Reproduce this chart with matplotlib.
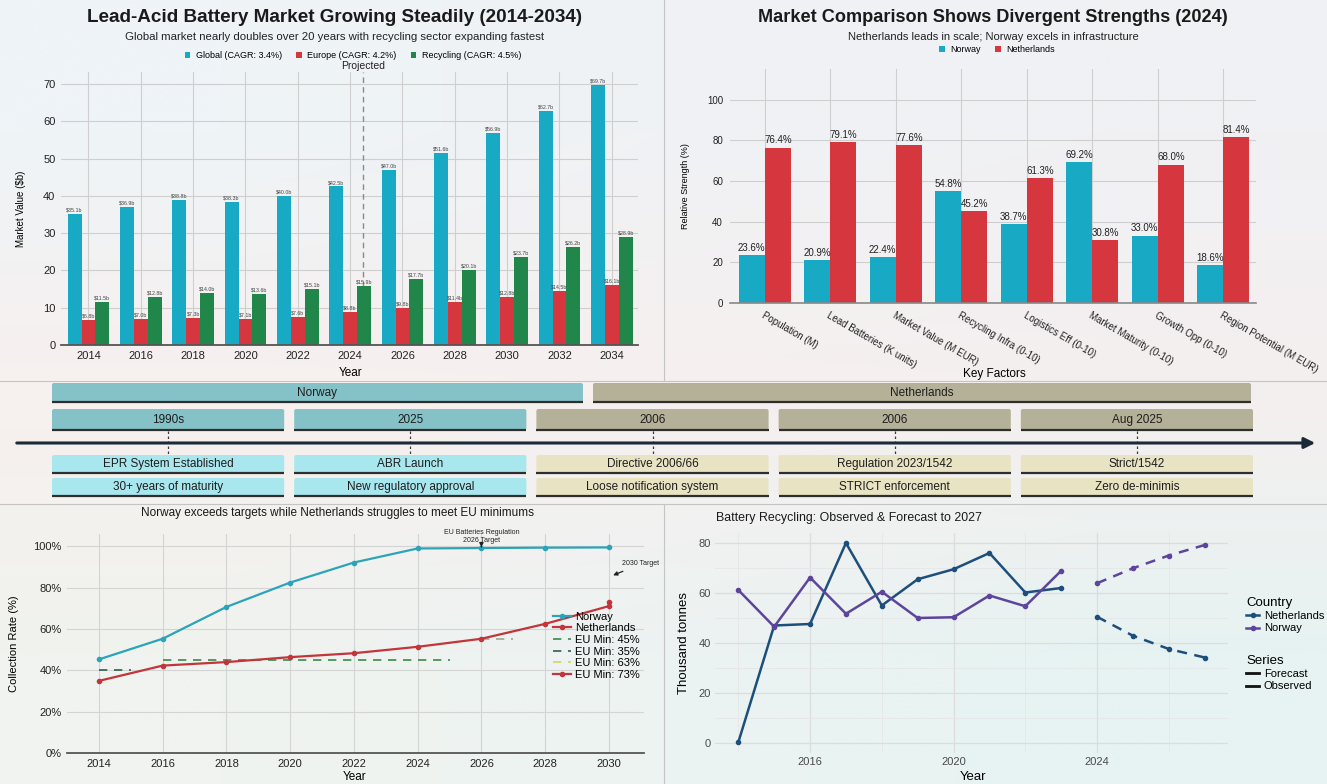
import numpy as np
import matplotlib.pyplot as plt
from matplotlib.patches import FancyBboxPatch
from matplotlib.lines import Line2D
from matplotlib.ticker import PercentFormatter

plt.rcParams['font.family'] = ['Liberation Sans', 'DejaVu Sans']

W, H = 1327, 784

# ---- top left: market value by year ($b)
years_mkt = [2014, 2016, 2018, 2020, 2022, 2024, 2026, 2028, 2030, 2032, 2034]
global_mkt = [35.1, 36.9, 38.8, 38.3, 40.0, 42.5, 47.0, 51.6, 56.9, 62.7, 69.7]
europe_mkt = [6.8, 7.0, 7.3, 7.1, 7.6, 8.8, 9.8, 11.4, 12.8, 14.5, 16.1]
recycling_mkt = [11.5, 12.8, 14.0, 13.6, 15.1, 15.9, 17.7, 20.1, 23.7, 26.2, 28.9]
mkt_labels = ['Global (CAGR: 3.4%)', 'Europe (CAGR: 4.2%)', 'Recycling (CAGR: 4.5%)']

# ---- top right: relative strength (%)
factors = ['Population (M)', 'Lead Batteries (K units)', 'Market Value (M EUR)',
           'Recycling Infra (0-10)', 'Logistics Eff (0-10)', 'Market Maturity (0-10)',
           'Growth Opp (0-10)', 'Region Potential (M EUR)']
norway_str = [23.6, 20.9, 22.4, 54.8, 38.7, 69.2, 33.0, 18.6]
nl_str = [76.4, 79.1, 77.6, 45.2, 61.3, 30.8, 68.0, 81.4]

# ---- middle: regulatory timeline
tl_regions = ['Norway', 'Netherlands']
tl_dates = ['1990s', '2025', '2006', '2006', 'Aug 2025']
tl_events = ['EPR System Established', 'ABR Launch', 'Directive 2006/66',
             'Regulation 2023/1542', 'Strict/1542']
tl_details = ['30+ years of maturity', 'New regulatory approval',
              'Loose notification system', 'STRICT enforcement', 'Zero de-minimis']
tl_country = [0, 0, 1, 1, 1]

# ---- bottom left: collection rate (%)
years_col = [2014, 2016, 2018, 2020, 2022, 2024, 2026, 2028, 2030]
norway_col = [45.3, 55.3, 70.7, 82.5, 92.2, 99.0, 99.2, 99.4, 99.5]
nl_col = [34.9, 42.3, 44.0, 46.4, 48.3, 51.4, 55.3, 62.5, 71.1]
eu45_years, eu45_val = [2016, 2025], 45
eu35_years, eu35_val = [2014, 2015], 40
eu63_years, eu63_val = [2026, 2027], 55
eu73_year, eu73_val = 2030, 73

# ---- bottom right: recycled volume (thousand tonnes)
years_obs = [2014, 2015, 2016, 2017, 2018, 2019, 2020, 2021, 2022, 2023]
nl_obs = [0.3, 47.0, 47.6, 80.0, 55.0, 65.5, 69.5, 76.0, 60.2, 62.0]
no_obs = [61.2, 46.5, 66.2, 51.7, 60.5, 50.0, 50.3, 59.0, 54.7, 68.9]
years_fc = [2024, 2025, 2026, 2027]
nl_fc = [50.5, 42.9, 37.6, 34.2]
no_fc = [63.9, 69.9, 75.0, 79.2]

C_TEAL = '#18aac4'
C_RED = '#d6363d'
C_GREEN = '#21864a'
C_NL = '#1d4f7c'
C_NO = '#5d449c'


def px_axes(x0, y0, x1, y1):
    return fig.add_axes([x0 / W, 1 - y1 / H, (x1 - x0) / W, (y1 - y0) / H])


fig = plt.figure(figsize=(W / 100, H / 100), dpi=100)

# background + timeline layer in pixel coords
bg = fig.add_axes([0, 0, 1, 1])
bg.set_zorder(-1)
bg.axis('off')
grid_cols = np.array([
    [[238, 244, 247], [240, 242, 245], [240, 241, 244]],
    [[247, 240, 238], [246, 240, 239], [245, 239, 239]],
    [[240, 243, 239], [236, 243, 242], [230, 243, 242]],
]) / 255.0
bg.imshow(grid_cols, extent=(0, W, H, 0), interpolation='bilinear', aspect='auto')
bg.set_xlim(0, W)
bg.set_ylim(H, 0)

# panel separators
for yy in (381, 504):
    bg.plot([0, W], [yy, yy], color='#c4c4c4', lw=0.8)
bg.plot([664, 664], [0, 381], color='#c4c4c4', lw=0.8)
bg.plot([664, 664], [504, H], color='#c4c4c4', lw=0.8)


def tl_box(x0, x1, y0, y1, fc, text, fs=8.5):
    bg.add_patch(FancyBboxPatch((x0, y0), x1 - x0, y1 - y0,
                                boxstyle='round,pad=0,rounding_size=2',
                                fc=fc, ec='none'))
    bg.plot([x0, x1], [y1, y1], color='#2e2e2e', lw=1.6, solid_capstyle='butt')
    bg.text((x0 + x1) / 2, (y0 + y1) / 2, text, ha='center', va='center',
            fontsize=fs, color='#1e1e1e')


head_fc = ['#84c2c8', '#b4b198']
event_fc = ['#a9e7ef', '#e7e3c3']
head_span = [(52, 583), (593, 1251)]
for i, name in enumerate(tl_regions):
    tl_box(head_span[i][0], head_span[i][1], 383, 402, head_fc[i], name)

bg.annotate('', xy=(1318, 443), xytext=(14, 443),
            arrowprops=dict(arrowstyle='-|>', color='#1b2a38', lw=2.2,
                            mutation_scale=16))

bw, gap, left = 232.2, 10, 52
for i in range(len(tl_dates)):
    x0 = left + i * (bw + gap)
    x1 = x0 + bw
    cx = (x0 + x1) / 2
    c = tl_country[i]
    bg.plot([cx, cx], [431, 455], color='#3a3a3a', lw=0.9, ls=(0, (2, 2)))
    tl_box(x0, x1, 409, 430, head_fc[c], tl_dates[i])
    tl_box(x0, x1, 455, 473, event_fc[c], tl_events[i])
    tl_box(x0, x1, 478, 496, event_fc[c], tl_details[i])

# ================= top left
fig.text(335 / W, 1 - 17 / H, 'Lead-Acid Battery Market Growing Steadily (2014-2034)',
         ha='center', va='center', fontsize=13.6, fontweight='bold', color='#1a1a1a')
fig.text(335 / W, 1 - 37 / H,
         'Global market nearly doubles over 20 years with recycling sector expanding fastest',
         ha='center', va='center', fontsize=8.2, color='#222222')

ax1 = px_axes(61, 72, 638, 345)
ax1.set_facecolor('none')
x = np.array(years_mkt, dtype=float)
w = 0.53
series = [(global_mkt, C_TEAL, -w), (europe_mkt, C_RED, 0), (recycling_mkt, C_GREEN, w)]
handles = []
for (vals, col, off), lab in zip(series, mkt_labels):
    bars = ax1.bar(x + off, vals, w, color=col, label=lab, zorder=2)
    handles.append(bars)
    for xv, v in zip(x + off, vals):
        ax1.text(xv, v + 0.4, f'${v:.1f}b', ha='center', va='bottom',
                 fontsize=3.8, color='#444444', zorder=3)
ax1.axvline(2024.5, color='#8a8a8a', ls=(0, (4, 3)), lw=1, zorder=1)
ax1.text(2024.5, 73.5, 'Projected', ha='center', va='bottom', fontsize=7.5,
         color='#222222', clip_on=False)
ax1.set_xlim(2012.95, 2035)
ax1.set_ylim(0, 73.2)
ax1.set_xticks(years_mkt)
ax1.set_yticks(range(0, 71, 10))
ax1.grid(True, color='#cfcfcf', lw=0.8, zorder=0)
ax1.set_axisbelow(True)
for s in ('top', 'right', 'left'):
    ax1.spines[s].set_visible(False)
ax1.spines['bottom'].set_color('#555555')
ax1.spines['bottom'].set_linewidth(1.3)
ax1.tick_params(length=0, labelsize=8, colors='#222222', pad=4)
ax1.set_ylabel('Market Value ($b)', fontsize=7, labelpad=12)
fig.text(351 / W, 1 - 373 / H, 'Year', ha='center', va='center', fontsize=8.5)
fig.legend(handles, mkt_labels, loc='center', bbox_to_anchor=(353 / W, 1 - 56 / H),
           ncol=3, frameon=False, fontsize=6.5, handlelength=0.6, handleheight=0.6,
           handletextpad=0.6, columnspacing=1.6)

# ================= top right
fig.text(993 / W, 1 - 17 / H, 'Market Comparison Shows Divergent Strengths (2024)',
         ha='center', va='center', fontsize=13.1, fontweight='bold', color='#1a1a1a')
fig.text(993 / W, 1 - 37 / H, 'Netherlands leads in scale; Norway excels in infrastructure',
         ha='center', va='center', fontsize=8.0, color='#222222')

ax2 = px_axes(730, 69, 1256, 303)
ax2.set_facecolor('none')
xi = np.arange(len(factors))
bw2 = 0.4
bn = ax2.bar(xi - bw2 / 2, norway_str, bw2, color=C_TEAL, zorder=2)
bl = ax2.bar(xi + bw2 / 2, nl_str, bw2, color=C_RED, zorder=2)
for xv, v in zip(xi - bw2 / 2, norway_str):
    ax2.text(xv, v + 1.2, f'{v:.1f}%', ha='center', va='bottom', fontsize=7, color='#222')
for xv, v in zip(xi + bw2 / 2, nl_str):
    ax2.text(xv, v + 1.2, f'{v:.1f}%', ha='center', va='bottom', fontsize=7, color='#222')
ax2.set_xlim(-0.53, 7.5)
ax2.set_ylim(0, 115)
ax2.set_yticks(range(0, 101, 20))
ax2.set_xticks(xi)
ax2.set_xticklabels(factors, rotation=-30, ha='left', va='top', rotation_mode='anchor')
ax2.grid(True, color='#cfcfcf', lw=0.8, zorder=0)
ax2.set_axisbelow(True)
for s in ('top', 'right', 'left'):
    ax2.spines[s].set_visible(False)
ax2.spines['bottom'].set_color('#888888')
ax2.spines['bottom'].set_linewidth(1.2)
ax2.tick_params(length=0, labelsize=7, colors='#222222', pad=5)
ax2.set_ylabel('Relative Strength (%)', fontsize=6.5, labelpad=12)
fig.text(994 / W, 1 - 374 / H, 'Key Factors', ha='center', va='center', fontsize=8.5)
fig.legend([bn, bl], ['Norway', 'Netherlands'], loc='center',
           bbox_to_anchor=(997 / W, 1 - 50 / H), ncol=2, frameon=False, fontsize=6.5,
           handlelength=0.6, handleheight=0.6, handletextpad=0.6, columnspacing=1.6)

# ================= bottom left
fig.text(338 / W, 1 - 513 / H,
         'Norway exceeds targets while Netherlands struggles to meet EU minimums',
         ha='center', va='center', fontsize=8.5, color='#1a1a1a')
ax3 = px_axes(67, 534, 644, 753)
ax3.set_facecolor('none')
ax3.plot(years_col, norway_col, color='#2ba4b9', lw=1.6, marker='o', ms=3, zorder=3)
ax3.plot(years_col, nl_col, color='#c2353a', lw=1.6, marker='o', ms=3, zorder=3)
ax3.plot(eu45_years, [eu45_val] * 2, color='#3b8a4c', lw=1.2, ls=(0, (5, 4)))
ax3.plot(eu35_years, [eu35_val] * 2, color='#2f5e50', lw=1.2, ls=(0, (5, 4)))
ax3.plot(eu63_years, [eu63_val] * 2, color='#9aa88e', lw=1.2, ls=(0, (5, 4)))
ax3.plot([eu73_year], [eu73_val], color='#c2353a', marker='o', ms=3, lw=1.6, zorder=3)
leg_h = [Line2D([], [], color='#2ba4b9', lw=1.6, marker='o', ms=3),
         Line2D([], [], color='#c2353a', lw=1.6, marker='o', ms=3),
         Line2D([], [], color='#3b8a4c', lw=1.2, ls=(0, (5, 4))),
         Line2D([], [], color='#2f5e50', lw=1.2, ls=(0, (5, 4))),
         Line2D([], [], color='#d6cf6a', lw=1.2, ls=(0, (5, 4))),
         Line2D([], [], color='#c2353a', lw=1.6, marker='o', ms=3)]
leg_l = ['Norway', 'Netherlands', 'EU Min: 45%', 'EU Min: 35%', 'EU Min: 63%', 'EU Min: 73%']
ax3.legend(leg_h, leg_l, loc='center left', bbox_to_anchor=(0.835, 0.49), frameon=False,
           fontsize=8, handlelength=1.6, handletextpad=0.4, labelspacing=0.15,
           borderaxespad=0)
ax3.annotate('EU Batteries Regulation\n2026 Target', xy=(2026, 99.6), xytext=(2026, 105),
             ha='center', va='center', fontsize=5, color='#222',
             arrowprops=dict(arrowstyle='-|>', color='#222', lw=0.9, mutation_scale=6))
ax3.annotate('2030 Target', xy=(2030.05, 85.5), xytext=(2031, 91.5),
             ha='center', va='center', fontsize=5, color='#222',
             arrowprops=dict(arrowstyle='-|>', color='#222', lw=0.9, mutation_scale=6))
ax3.set_xlim(2013, 2031.1)
ax3.set_ylim(0, 106)
ax3.set_xticks(years_col)
ax3.set_yticks(range(0, 101, 20))
ax3.yaxis.set_major_formatter(PercentFormatter(decimals=0))
ax3.grid(True, color='#d4d4d4', lw=0.8, zorder=0)
for s in ('top', 'right', 'left'):
    ax3.spines[s].set_visible(False)
ax3.spines['bottom'].set_color('#555555')
ax3.spines['bottom'].set_linewidth(1.3)
ax3.tick_params(length=0, labelsize=8, colors='#222222', pad=4)
ax3.set_ylabel('Collection Rate (%)', fontsize=8, labelpad=10)
fig.text(355 / W, 1 - 783 / H, 'Year', ha='center', va='bottom', fontsize=8.5)

# ================= bottom right
fig.text(716 / W, 1 - 518 / H, 'Battery Recycling: Observed & Forecast to 2027',
         ha='left', va='center', fontsize=8.9, color='#1a1a1a')
ax4 = px_axes(715, 533, 1228, 753)
ax4.set_facecolor('none')
ax4.plot(years_obs, nl_obs, color=C_NL, lw=1.8, marker='o', ms=3)
ax4.plot(years_obs, no_obs, color=C_NO, lw=1.8, marker='o', ms=3)
ax4.plot(years_fc, nl_fc, color=C_NL, lw=1.8, marker='o', ms=3, ls=(0, (4, 3)))
ax4.plot(years_fc, no_fc, color=C_NO, lw=1.8, marker='o', ms=3, ls=(0, (4, 3)))
ax4.set_xlim(2013.35, 2027.65)
ax4.set_ylim(-4, 84)
ax4.set_xticks([2016, 2020, 2024])
ax4.set_xticks([2014, 2018, 2022, 2026], minor=True)
ax4.set_yticks(range(0, 81, 20))
ax4.set_yticks(range(10, 80, 20), minor=True)
ax4.grid(True, which='major', color='#dcdcdc', lw=0.9)
ax4.grid(True, which='minor', color='#e6e6e6', lw=0.6)
for s in ax4.spines.values():
    s.set_visible(False)
ax4.tick_params(which='both', length=0, labelsize=8, colors='#4a4a4a', pad=3)
ax4.set_ylabel('Thousand tonnes', fontsize=9.5, labelpad=6)
fig.text(973 / W, 1 - 783 / H, 'Year', ha='center', va='bottom', fontsize=9.5)

fig.legend([Line2D([], [], color=C_NL, lw=1.8, marker='o', ms=3),
            Line2D([], [], color=C_NO, lw=1.8, marker='o', ms=3)],
           ['Netherlands', 'Norway'], title='Country', loc='upper left',
           bbox_to_anchor=(1236 / W, 1 - 587 / H), frameon=False, fontsize=8,
           title_fontsize=9.5, handlelength=1.2, handletextpad=0.4,
           labelspacing=0.2, alignment='left')
fig.legend([Line2D([], [], color='#111', lw=2), Line2D([], [], color='#111', lw=2)],
           ['Forecast', 'Observed'], title='Series', loc='upper left',
           bbox_to_anchor=(1236 / W, 1 - 645 / H), frameon=False, fontsize=8,
           title_fontsize=9.5, handlelength=1.2, handletextpad=0.4,
           labelspacing=0.2, alignment='left')

fig.savefig('out.png', dpi=100)
